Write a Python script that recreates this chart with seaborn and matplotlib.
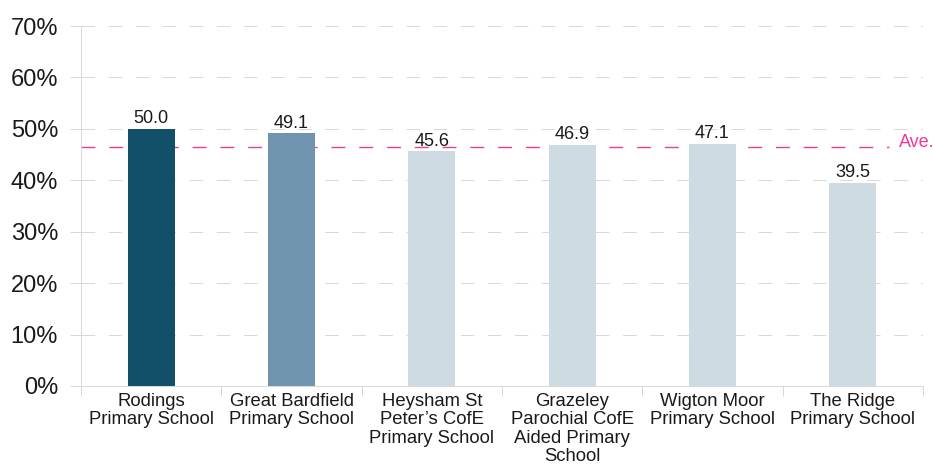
import matplotlib
matplotlib.use("Agg")
import matplotlib.pyplot as plt
import seaborn as sns
import pandas as pd
import numpy as np
from matplotlib.ticker import FixedLocator, FuncFormatter

schools = [
    "Rodings\nPrimary School",
    "Great Bardfield\nPrimary School",
    "Heysham St\nPeter\u2019s CofE\nPrimary School",
    "Grazeley\nParochial CofE\nAided Primary\nSchool",
    "Wigton Moor\nPrimary School",
    "The Ridge\nPrimary School",
]
values = [50.0, 49.1, 45.6, 46.9, 47.1, 39.5]
colors = ["#124f6b", "#7094ad", "#cfdbe3", "#cfdbe3", "#cfdbe3", "#cfdbe3"]
average = 46.4
y_ticks = [0, 10, 20, 30, 40, 50, 60, 70]

sns.set_theme(style="white")
plt.rcParams["font.family"] = ["Liberation Sans", "DejaVu Sans"]

df = pd.DataFrame({"school": schools, "value": values})

fig = plt.figure(figsize=(9.33, 4.66), dpi=100)
ax = fig.add_axes([81 / 933, 1 - 386 / 466, (923 - 81) / 933, (386 - 26) / 466])

sns.barplot(data=df, x="school", y="value", hue="school", palette=colors,
            width=0.335, dodge=False, legend=False, ax=ax, saturation=1,
            linewidth=0, zorder=2)

ax.set_ylim(0, 70)
ax.set_xlim(-0.5, len(schools) - 0.5)
ax.set_xlabel("")
ax.set_ylabel("")

grid_c = "#d9d9d9"
ax.yaxis.set_major_locator(FixedLocator(y_ticks))
ax.yaxis.set_major_formatter(FuncFormatter(lambda v, p: f"{int(v)}%"))
for t in y_ticks[1:]:
    ax.axhline(t, color=grid_c, lw=0.75, ls=(0, (13, 13)), zorder=0)

ax.tick_params(axis="y", length=8, width=0.75, color=grid_c, labelsize=17,
               pad=8.5, labelcolor="#1a1a1a", left=True)
ax.set_xticks(range(len(schools)))
ax.set_xticklabels(schools, fontsize=13.3, linespacing=1.1, color="#1a1a1a")
ax.tick_params(axis="x", which="major", length=0, pad=5)
ax.set_xticks(np.arange(-0.5, len(schools), 1.0), minor=True)
ax.tick_params(axis="x", which="minor", length=7.5, width=0.75, color=grid_c, bottom=True)

for s in ["top", "right"]:
    ax.spines[s].set_visible(False)
for s in ["left", "bottom"]:
    ax.spines[s].set_color(grid_c)
    ax.spines[s].set_linewidth(0.75)

for i, v in enumerate(values):
    ax.text(i, v + 0.3, f"{v:.1f}", ha="center", va="bottom", fontsize=13, color="#1a1a1a")

ax.plot([-0.5, 5.26], [average, average], color="#e8408f", lw=1.0,
        ls=(0, (10, 10)), zorder=1)
ax.text(5.33, average + 0.9, "Ave.", color="#f0389a", fontsize=13,
        ha="left", va="center", clip_on=False)

fig.savefig("out.png", dpi=100)
